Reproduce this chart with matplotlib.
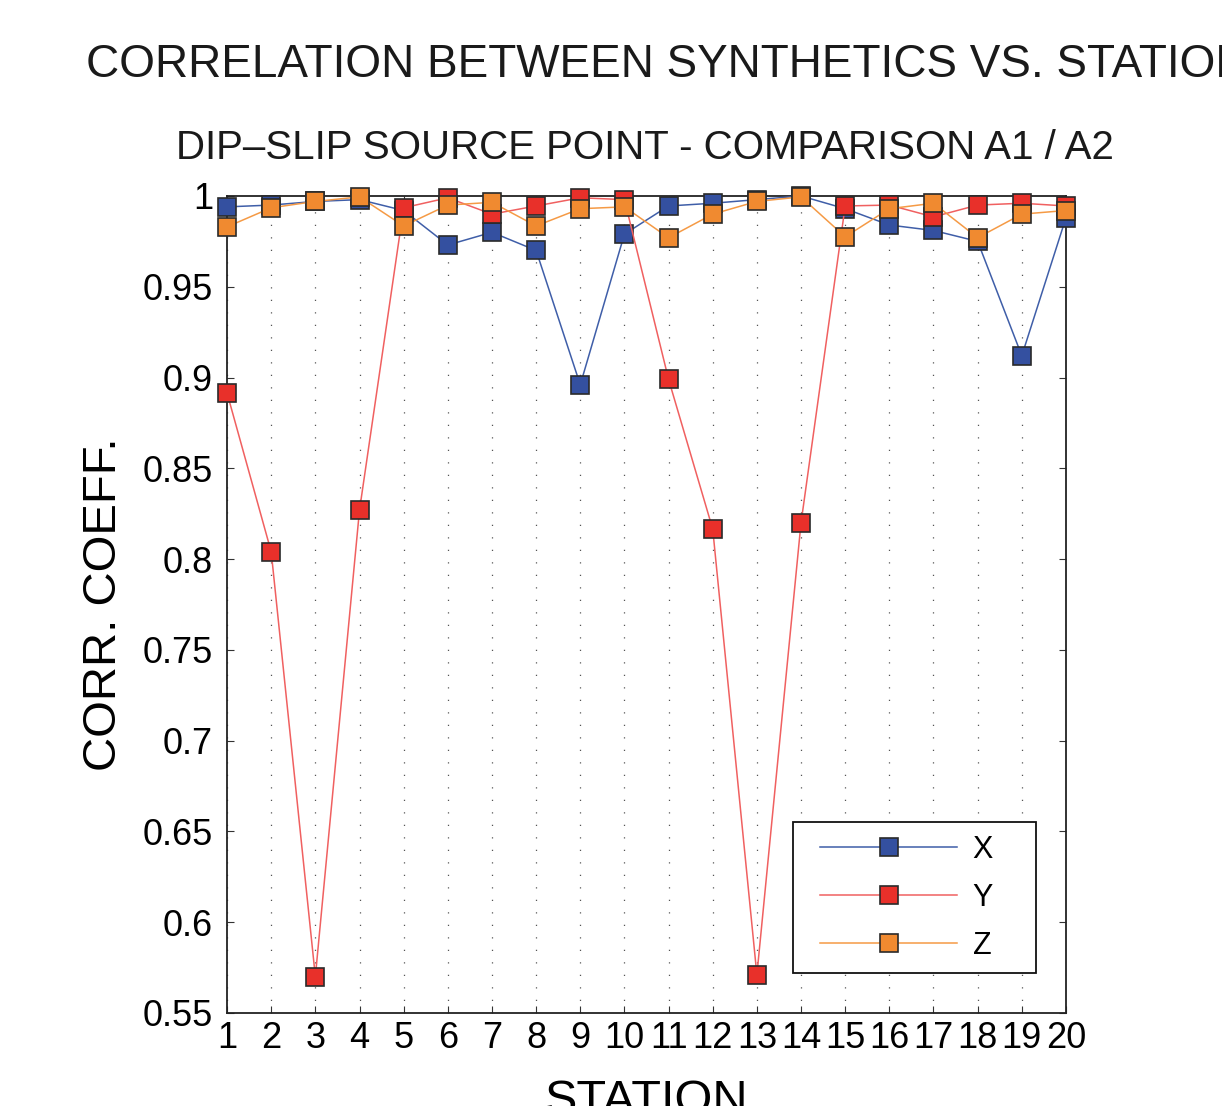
import numpy as np
import matplotlib
matplotlib.use("Agg")
import matplotlib.pyplot as plt
from matplotlib.patches import Rectangle

plt.rcParams["font.family"] = ["Liberation Sans", "DejaVu Sans"]

stations = list(range(1, 21))
corr_x = [0.994, 0.995, 0.997, 0.998, 0.992, 0.973, 0.980, 0.970, 0.896, 0.979,
          0.9945, 0.996, 0.998, 1.000, 0.993, 0.984, 0.981, 0.975, 0.912, 0.988]
corr_y = [0.8915, 0.804, 0.570, 0.827, 0.9935, 0.999, 0.990, 0.9945, 0.999, 0.998,
          0.899, 0.8165, 0.571, 0.820, 0.9945, 0.995, 0.9885, 0.995, 0.996, 0.9945]
corr_z = [0.983, 0.9935, 0.997, 0.9995, 0.9835, 0.995, 0.9965, 0.9835, 0.993, 0.994,
          0.977, 0.990, 0.997, 0.9995, 0.9775, 0.993, 0.996, 0.977, 0.990, 0.992]
yticks = [0.55, 0.6, 0.65, 0.7, 0.75, 0.8, 0.85, 0.9, 0.95, 1.0]
ytick_labels = ["0.55", "0.6", "0.65", "0.7", "0.75", "0.8", "0.85", "0.9", "0.95", "1"]

fig = plt.figure(figsize=(12.22, 11.06), dpi=100)
ax = fig.add_axes([0.1858, 0.0841, 0.6865, 0.7387])

series = [
    (corr_x, "X", "#3f5ea8", "#3450a0"),
    (corr_y, "Y", "#f06060", "#e8302a"),
    (corr_z, "Z", "#f59a45", "#f08a30"),
]
for vals, name, lc, mc in series:
    ax.plot(stations, vals, color=lc, lw=1.1, marker="s", markersize=13,
            markerfacecolor=mc, markeredgecolor="#2a2a2a", markeredgewidth=1.2,
            label=name, clip_on=False, zorder=3)

ax.set_xlim(1, 20)
ax.set_ylim(0.55, 1.0)
ax.set_xticks(stations)
ax.set_yticks(yticks)
ax.set_yticklabels(ytick_labels)
ax.tick_params(direction="in", labelsize=26, length=5, width=0.8,
               top=True, right=True, color="#333333")
ax.tick_params(axis="x", pad=6)
ax.tick_params(axis="y", pad=10)
ax.xaxis.grid(True, linestyle=(0, (1, 9)), color="#555555", lw=0.9)
for s in ax.spines.values():
    s.set_linewidth(1.3)
    s.set_color("#222222")

ax.set_ylabel("CORR. COEFF.", fontsize=34, labelpad=12)
ax.set_xlabel("STATION", fontsize=35, labelpad=16)

# legend entries without frame, box drawn separately (MATLAB style padding)
leg = ax.legend(loc="center left", bbox_to_anchor=(0.7068, 0.1408), fontsize=22,
                handlelength=4.5, handletextpad=0.5, labelspacing=0.59,
                borderpad=0, borderaxespad=0, frameon=False)
leg.set_zorder(6)
ax.add_patch(Rectangle((0.6746, 0.049), 0.2896, 0.1848, transform=ax.transAxes,
                       facecolor="white", edgecolor="#111111", lw=1.3, zorder=5))

fig.text(0.07, 0.941, "CORRELATION BETWEEN SYNTHETICS VS. STATION",
         fontsize=33, ha="left", va="center", color="#1a1a1a")
fig.text(0.528, 0.866, "DIP\u2013SLIP SOURCE POINT - COMPARISON A1 / A2",
         fontsize=29, ha="center", va="center", color="#1a1a1a")

fig.savefig("out.png", dpi=100)
